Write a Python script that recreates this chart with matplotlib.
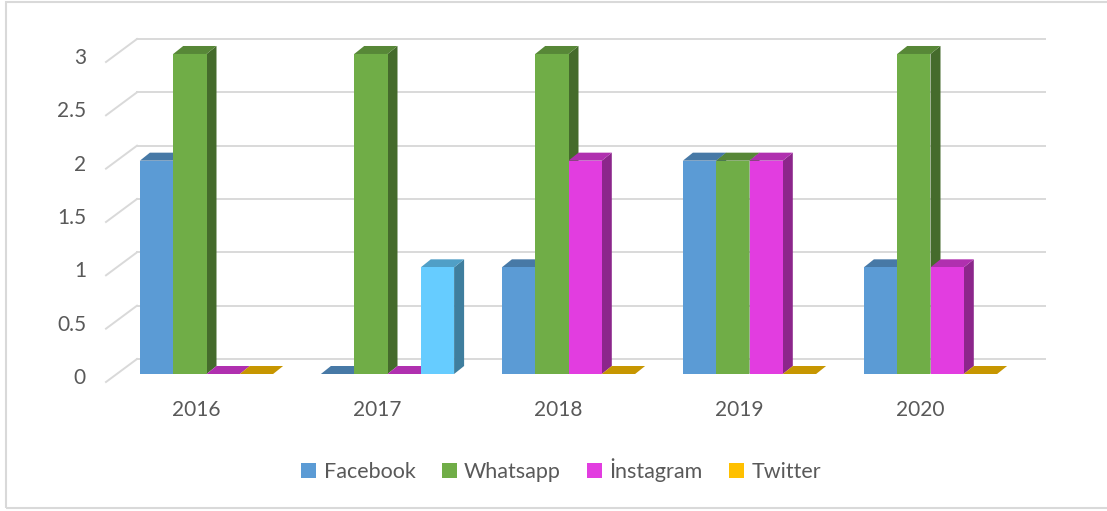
import matplotlib.pyplot as plt
from matplotlib.patches import Polygon, Rectangle, Patch
from matplotlib.colors import to_rgb

years = ['2016', '2017', '2018', '2019', '2020']
series = ['Facebook', 'Whatsapp', 'İnstagram', 'Twitter']
facebook = [2, 0, 1, 2, 1]
whatsapp = [3, 3, 3, 2, 3]
instagram = [0, 0, 2, 2, 1]
twitter = [0, 1, 0, 0, 0]
yticks = [0, 0.5, 1, 1.5, 2, 2.5, 3]

colors = ['#5B9BD5', '#70AD47', '#E23DE0', '#FFC000']
special = {(3, 1): '#66CCFF'}  # 2017 twitter point has its own colour

plt.rcParams['font.family'] = ['Lato', 'DejaVu Sans']
txt = '#595959'
grid = '#D9D9D9'

fig = plt.figure(figsize=(11.07, 5.11), dpi=100)
W, H = 1107, 511
# axes placed in pixel terms of the reference
ax = fig.add_axes([100 / W, 1 - 390 / H, 950 / W, 360 / H])
ax.set_axis_off()

pxx = 181.0      # pixels per category
pxy = 106.67     # pixels per unit value
ax.set_xlim((100 - 206.5) / pxx, (1050 - 206.5) / pxx)
ax.set_ylim(-(390 - 374) / pxy, (374 - 30) / pxy)

bw = 33.3 / pxx
ddx, ddy = 10 / pxx, 8 / pxy          # bar depth
bdx, bdy = 20 / pxx, 15 / pxy         # back wall offset
fdy = 8 / pxy                         # floor front edge
xbl, xbr = (137 - 206.5) / pxx, (1045 - 206.5) / pxx
xfl = (106 - 206.5) / pxx

# gridlines: back wall + left side wall
for v in yticks:
    ax.plot([xbl, xbr], [v + bdy, v + bdy], color=grid, lw=1.4, zorder=1,
            clip_on=False)
    ax.plot([xfl, xbl], [v - fdy, v + bdy], color=grid, lw=1.4, zorder=1,
            clip_on=False)
    ax.text(xfl - 20 / pxx, v - 4 / pxy, f'{v:g}', ha='right', va='center',
            fontsize=15, color=txt, clip_on=False)


def shade(c, f):
    r, g, b = to_rgb(c)
    return (r * f, g * f, b * f)


data = [facebook, whatsapp, instagram, twitter]
z = 2
for g in range(len(years)):
    for s in range(4):
        v = data[s][g]
        c = special.get((s, g), colors[s])
        x0 = g - 2 * bw + s * bw
        x1 = x0 + bw
        side = Polygon([(x1, 0), (x1 + ddx, ddy), (x1 + ddx, v + ddy), (x1, v)],
                       closed=True, facecolor=shade(c, 0.62), lw=0, zorder=z)
        top = Polygon([(x0, v), (x0 + ddx, v + ddy), (x1 + ddx, v + ddy), (x1, v)],
                      closed=True, facecolor=shade(c, 0.78), lw=0, zorder=z + 1)
        if v > 0:
            ax.add_patch(side)
        ax.add_patch(top)
        if v > 0:
            ax.bar(x0, v, width=bw, align='edge', color=c, lw=0, zorder=z + 2)
        z += 3
    ax.text(g - 10 / pxx, -(410 - 374) / pxy, years[g], ha='center',
            va='center', fontsize=15, color=txt, clip_on=False)

handles = [Patch(facecolor=c, label=n) for c, n in zip(colors, series)]
fig.legend(handles=handles, loc='center', bbox_to_anchor=(561 / W, 1 - 470 / H),
           ncol=4, frameon=False, fontsize=15.5, labelcolor=txt,
           handlelength=0.7, handleheight=0.7, handletextpad=0.35,
           columnspacing=1.2)

fig.add_artist(Rectangle((6 / W, 1 - 508 / H), 1.2, (506) / H,
                         transform=fig.transFigure, fill=False,
                         edgecolor=grid, lw=1.5))

fig.savefig('out.png', dpi=100)
